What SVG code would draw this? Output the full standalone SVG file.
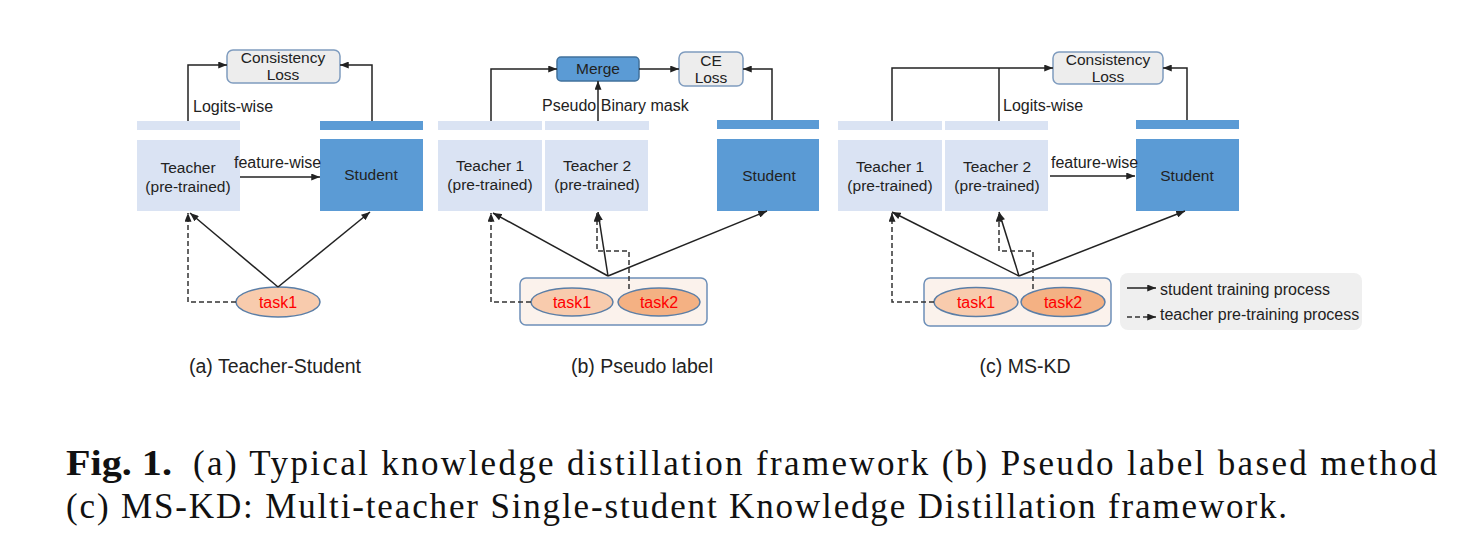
<svg xmlns="http://www.w3.org/2000/svg" width="1481" height="560" viewBox="0 0 1481 560">
<defs>
<marker id="ah" viewBox="0 0 10 8" refX="10" refY="4" markerWidth="9" markerHeight="7" orient="auto" markerUnits="userSpaceOnUse"><path d="M0,0 L10,4 L0,8 z" fill="#222"/></marker>
<style>
.t{font-family:"Liberation Sans",Arial,sans-serif;font-size:15.5px;fill:#222;text-anchor:middle}
.l{font-family:"Liberation Sans",Arial,sans-serif;font-size:16px;fill:#222}
.cap{font-family:"Liberation Sans",Arial,sans-serif;font-size:19.5px;fill:#222;text-anchor:middle}
.task{font-family:"Liberation Sans",Arial,sans-serif;font-size:16px;fill:#ff0000;text-anchor:middle}
.fig{font-family:"Liberation Serif","Times New Roman",serif;font-size:35px;fill:#111}
.tb{fill:#dae3f3}
.sb{fill:#5b9bd5}
.loss{fill:#ededed;stroke:#7f9cbf;stroke-width:1.5}
.merge{fill:#5b9bd5;stroke:#41719c;stroke-width:1.5}
.e1{fill:#f8cbad;stroke:#5b7ea6;stroke-width:1.5}
.e2{fill:#f4b183;stroke:#5b7ea6;stroke-width:1.5}
.grp{fill:#fbf2ec;stroke:#6d8fb8;stroke-width:1.5}
.ln{fill:none;stroke:#222;stroke-width:1.5}
.ar{fill:none;stroke:#222;stroke-width:1.5;marker-end:url(#ah)}
.da{fill:none;stroke:#333;stroke-width:1.5;stroke-dasharray:5 3;marker-end:url(#ah)}
</style>
</defs>
<rect width="1481" height="560" fill="#ffffff"/>

<!-- Panel (a) -->
<g id="a-loss"><rect class="loss" x="227" y="50" width="113" height="33" rx="6"/><text class="t" x="283" y="63">Consistency</text><text class="t" x="283" y="80">Loss</text></g>
<g id="a-teacher"><rect class="tb" x="137" y="121" width="103" height="9"/><rect class="tb" x="137" y="140" width="103" height="71"/><text class="t" x="188" y="173">Teacher</text><text class="t" x="188" y="192">(pre-trained)</text></g>
<g id="a-student"><rect class="sb" x="320" y="121" width="103" height="9"/><rect class="sb" x="320" y="139" width="103" height="72"/><text class="t" x="371" y="180">Student</text></g>
<g id="a-task1"><ellipse class="e1" cx="278" cy="302" rx="42" ry="15"/><text class="task" x="278" y="308">task1</text></g>

<!-- Panel (b) -->
<g id="b-merge"><rect class="merge" x="557" y="57" width="82" height="24" rx="4"/><text class="t" x="598" y="74">Merge</text></g>
<g id="b-ce"><rect class="loss" x="679" y="52" width="64" height="34" rx="6"/><text class="t" x="711" y="66">CE</text><text class="t" x="711" y="83">Loss</text></g>
<g id="b-teacher1"><rect class="tb" x="438" y="121" width="104" height="9"/><rect class="tb" x="438" y="140" width="104" height="71"/><text class="t" x="490" y="171">Teacher 1</text><text class="t" x="490" y="190">(pre-trained)</text></g>
<g id="b-teacher2"><rect class="tb" x="545" y="121" width="104" height="9"/><rect class="tb" x="545" y="140" width="103" height="71"/><text class="t" x="597" y="171">Teacher 2</text><text class="t" x="597" y="190">(pre-trained)</text></g>
<g id="b-student"><rect class="sb" x="717" y="120" width="102" height="9"/><rect class="sb" x="717" y="139" width="102" height="72"/><text class="t" x="769" y="181">Student</text></g>
<g id="b-tasks"><rect class="grp" x="520" y="278" width="187" height="47" rx="6"/><ellipse class="e1" cx="572" cy="302" rx="41" ry="14"/><text class="task" x="572" y="308">task1</text><ellipse class="e2" cx="659" cy="302" rx="41" ry="14"/><text class="task" x="659" y="308">task2</text></g>

<!-- Panel (c) -->
<g id="c-loss"><rect class="loss" x="1053" y="52" width="110" height="32" rx="6"/><text class="t" x="1108" y="65">Consistency</text><text class="t" x="1108" y="82">Loss</text></g>
<g id="c-teacher1"><rect class="tb" x="838" y="121" width="104" height="9"/><rect class="tb" x="838" y="140" width="104" height="71"/><text class="t" x="890" y="172">Teacher 1</text><text class="t" x="890" y="191">(pre-trained)</text></g>
<g id="c-teacher2"><rect class="tb" x="945" y="121" width="103" height="9"/><rect class="tb" x="945" y="140" width="103" height="71"/><text class="t" x="997" y="172">Teacher 2</text><text class="t" x="997" y="191">(pre-trained)</text></g>
<g id="c-student"><rect class="sb" x="1136" y="120" width="103" height="9"/><rect class="sb" x="1136" y="139" width="103" height="72"/><text class="t" x="1187" y="181">Student</text></g>
<g id="c-tasks"><rect class="grp" x="924" y="278" width="187" height="48" rx="6"/><ellipse class="e1" cx="976" cy="302" rx="42" ry="14.5"/><text class="task" x="976" y="308">task1</text><ellipse class="e2" cx="1063" cy="302" rx="42" ry="14.5"/><text class="task" x="1063" y="308">task2</text></g>

<!-- Legend -->
<g id="legend">
<rect x="1120" y="273" width="242" height="57" rx="8" fill="#efefef"/>
<path class="ar" d="M1127,288 H1156"/>
<text class="l" x="1160" y="295">student training process</text>
<path class="da" d="M1127,317 H1156"/>
<text class="l" x="1160" y="320">teacher pre-training process</text>
</g>

<!-- Connectors -->
<g id="connectors">
<path class="ar" d="M188,121 V65 H227"/>
<path class="ar" d="M372,121 V65 H340"/>
<path class="ar" d="M240,177 H320"/>
<path class="ar" d="M278,287 L190,213"/>
<path class="ar" d="M278,287 L370,212"/>
<path class="da" d="M236,302 H188 V213"/>

<path class="ar" d="M491,121 V69 H557"/>
<path class="ar" d="M598,121 V81"/>
<path class="ar" d="M639,69 H679"/>
<path class="ar" d="M772,120 V69 H743"/>
<path class="ar" d="M608,276 L493,213"/>
<path class="ar" d="M608,276 L598,212"/>
<path class="ar" d="M608,276 L767,211"/>
<path class="da" d="M531,302 H491 V213"/>
<path class="da" d="M629,289 V251 H597 V213"/>

<path class="ar" d="M892,121 V68 H1053"/>
<path class="ln" d="M999,121 V68"/>
<path class="ar" d="M1187,120 V68 H1163"/>
<path class="ar" d="M1050,176 H1135"/>
<path class="ar" d="M1019,276 L892,212"/>
<path class="ar" d="M1019,276 L999,212"/>
<path class="ar" d="M1019,276 L1185,211"/>
<path class="da" d="M934,302 H892 V213"/>
<path class="da" d="M1033,289 V251 H999 V213"/>
</g>

<!-- Edge labels -->
<text class="l" x="193" y="112">Logits-wise</text>
<text class="l" x="234" y="168">feature-wise</text>
<text class="l" x="542" y="111">Pseudo Binary mask</text>
<text class="l" x="1003" y="111">Logits-wise</text>
<text class="l" x="1051" y="168">feature-wise</text>

<!-- Panel captions -->
<text class="cap" x="275" y="373">(a) Teacher-Student</text>
<text class="cap" x="642" y="373">(b) Pseudo label</text>
<text class="cap" x="1025" y="373">(c) MS-KD</text>

<!-- Figure caption -->
<text class="fig" x="66" y="475" font-weight="bold" textLength="106" lengthAdjust="spacingAndGlyphs">Fig. 1.</text>
<text class="fig" x="193" y="475" textLength="1244" lengthAdjust="spacing">(a) Typical knowledge distillation framework (b) Pseudo label based method</text>
<text class="fig" x="66" y="518" textLength="1221" lengthAdjust="spacing">(c) MS-KD: Multi-teacher Single-student Knowledge Distillation framework.</text>
</svg>
